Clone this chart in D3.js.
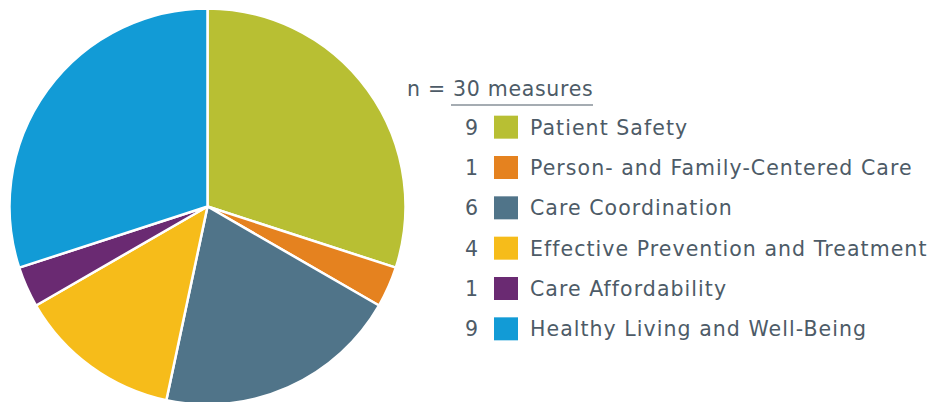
<!DOCTYPE html>
<html>
<head>
<meta charset="utf-8">
<script src="https://cdn.jsdelivr.net/npm/d3@7"></script>
<style>
  body { margin: 0; background: #fff; }
  text { font-family: "DejaVu Sans", sans-serif; fill: #4d5b67; font-size: 20.5px; letter-spacing: 1.05px; }
</style>
</head>
<body>
<div id="chart"></div>
<script>
// data
const categories = ["Patient Safety", "Person- and Family-Centered Care", "Care Coordination",
  "Effective Prevention and Treatment", "Care Affordability", "Healthy Living and Well-Being"];
const counts = [9, 1, 6, 4, 1, 9];
const colors = ["#b8bf33", "#e5821f", "#507489", "#f6bc1a", "#6a2a72", "#129bd6"];

const width = 928, height = 402;
const cx = 207.5, cy = 206.5, radius = 198;

const svg = d3.select("#chart")
  .append("svg")
    .attr("width", width)
    .attr("height", height);

const data = categories.map((c, i) => ({name: c, value: counts[i], color: colors[i]}));

const pie = d3.pie()
  .value(d => d.value)
  .sort(null);

const arc = d3.arc()
  .innerRadius(0)
  .outerRadius(radius);

svg.append("g")
    .attr("transform", `translate(${cx}, ${cy})`)
  .selectAll("path")
  .data(pie(data))
  .join("path")
    .attr("d", arc)
    .attr("fill", d => d.data.color)
    .attr("stroke", "#fff")
    .attr("stroke-width", 2.5)
    .attr("stroke-linejoin", "round");

// legend
const total = d3.sum(counts);
const header = svg.append("text")
    .attr("x", 407)
    .attr("y", 96)
    .style("letter-spacing", "0.7px");
header.append("tspan").text("n = ");
header.append("tspan").text(`${total} measures`);

svg.append("line")
    .attr("x1", 451).attr("x2", 593)
    .attr("y1", 105).attr("y2", 105)
    .attr("stroke", "#4d5b67")
    .attr("stroke-width", 1.2);

const y = d3.scaleBand()
  .domain(categories)
  .range([107, 349])
  .paddingInner(0);

const rows = svg.append("g")
  .selectAll("g")
  .data(data)
  .join("g")
    .attr("transform", d => `translate(0, ${y(d.name) + y.bandwidth() / 2})`);

rows.append("text")
    .attr("x", 478)
    .attr("y", 7.5)
    .attr("text-anchor", "end")
    .style("letter-spacing", "0px")
    .text(d => d.value);

rows.append("rect")
    .attr("x", 494)
    .attr("y", -11.5)
    .attr("width", 24)
    .attr("height", 23)
    .attr("fill", d => d.color);

rows.append("text")
    .attr("x", 530)
    .attr("y", 7.5)
    .text(d => d.name);
</script>
</body>
</html>
